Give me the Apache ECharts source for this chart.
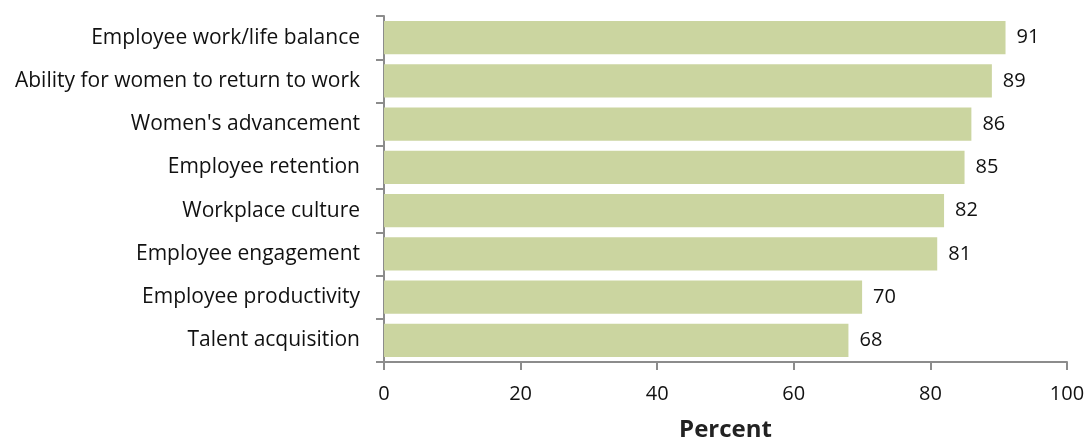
<!DOCTYPE html>
<html>
<head>
<meta charset="utf-8">
<script src="https://cdn.jsdelivr.net/npm/echarts@6/dist/echarts.min.js"></script>
<style>
  html, body { margin: 0; padding: 0; background: #fff; }
  #chart { width: 1089px; height: 437px; }
</style>
</head>
<body>
<div id="chart"></div>
<script>
// Share of respondents citing each benefit (percent)
const categories = [
  'Employee work/life balance',
  'Ability for women to return to work',
  "Women's advancement",
  'Employee retention',
  'Workplace culture',
  'Employee engagement',
  'Employee productivity',
  'Talent acquisition'
];
const values = [91, 89, 86, 85, 82, 81, 70, 68];
const xTicks = [0, 20, 40, 60, 80, 100];

const axisGrey = '#8c8c8c';
const font = '"Open Sans", "Noto Sans", sans-serif';

const chart = echarts.init(document.getElementById('chart'));
chart.setOption({
  animation: false,
  grid: { left: 384, right: 22, top: 16, bottom: 75, containLabel: false, outerBoundsMode: 'none' },
  xAxis: {
    type: 'value',
    min: xTicks[0],
    max: xTicks[xTicks.length - 1],
    interval: xTicks[1] - xTicks[0],
    name: 'Percent',
    nameLocation: 'middle',
    nameGap: 56,
    nameTextStyle: { fontFamily: font, fontSize: 24, fontWeight: 'bold', color: '#222' },
    axisLine: { show: true, lineStyle: { color: axisGrey, width: 2 } },
    axisTick: { show: true, length: 8, lineStyle: { color: axisGrey, width: 2 } },
    axisLabel: { fontFamily: font, fontSize: 20, color: '#111', margin: 22 },
    splitLine: { show: false }
  },
  yAxis: {
    type: 'category',
    data: categories,
    inverse: true,
    axisLine: { show: true, lineStyle: { color: axisGrey, width: 2 } },
    axisTick: { show: true, length: 8, lineStyle: { color: axisGrey, width: 2 } },
    axisLabel: { fontFamily: font, fontSize: 21, color: '#111', margin: 24 }
  },
  series: [{
    type: 'bar',
    data: values,
    barCategoryGap: '23%',
    itemStyle: { color: '#cbd5a0' },
    label: {
      show: true,
      position: 'right',
      distance: 11,
      fontFamily: font,
      fontSize: 20,
      color: '#111'
    }
  }]
});
</script>
</body>
</html>
